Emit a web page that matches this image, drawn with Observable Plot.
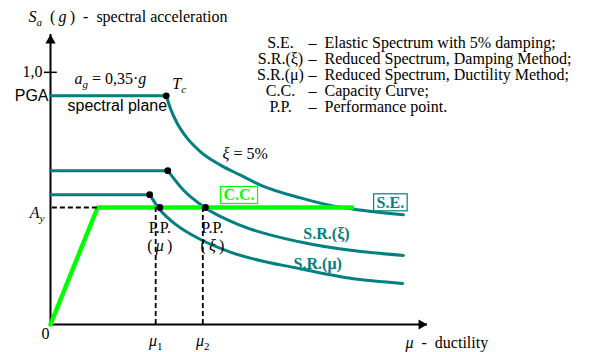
<!DOCTYPE html>
<html><head><meta charset="utf-8">
<script src="https://cdn.jsdelivr.net/npm/d3@7"></script>
<script src="https://cdn.jsdelivr.net/npm/@observablehq/plot@0.6"></script>
<style>html,body{margin:0;padding:0;background:#fff}</style>
</head><body><div id="chart"></div>
<script>
// ---------- data ----------
// Elastic spectrum (5% damping): descending branch after Tc (first point = Tc corner)
const seX = [3.07, 3.18, 3.36, 3.63, 3.98, 4.51, 5.04, 5.57, 6.63, 7.43, 8.01, 9.36];
const seY = [0.907, 0.857, 0.798, 0.738, 0.685, 0.632, 0.592, 0.553, 0.502, 0.472, 0.458, 0.435];
// Reduced spectrum, damping method
const srxX = [3.11, 3.53, 4.11, 5.04, 6.63, 7.96, 9.36];
const srxY = [0.610, 0.532, 0.462, 0.393, 0.327, 0.294, 0.274];
// Reduced spectrum, ductility method
const srmX = [2.63, 2.92, 3.32, 3.98, 4.77, 6.63, 7.96, 9.34];
const srmY = [0.515, 0.452, 0.397, 0.337, 0.287, 0.221, 0.183, 0.163];
// Capacity curve
const ccX = [0, 1.25, 8.0];
const ccY = [0, 0.464, 0.464];
const Ay = 0.464;
// Performance points and ductilities
const ppX = [2.90, 4.11];
const muX = [2.79, 4.04];
const muLabels = ["*μ*_[1]", "*μ*_[2]"];
const ppLabels = ["(\u2009*μ*\u2009)", "(\u2009*ξ*\u2009)"];
// y tick
const yTicks = [1.0];
const yTickLabels = ["1,0"];
// legend
const legendKeys = ["S.E.", "S.R.(ξ)", "S.R.(μ)", "C.C.", "P.P."];
const legendText = ["Elastic Spectrum with 5% damping;", "Reduced Spectrum, Damping Method;",
  "Reduced Spectrum, Ductility Method;", "Capacity Curve;", "Performance point."];

// ---------- styling ----------
const TEAL = "#008080", GREEN = "#00ff00";
const SERIF = "Liberation Serif, Times New Roman, serif";
const SANS = "Liberation Sans, Arial, sans-serif";
const yMax = 1.15, xMax = 10;

const pts = (X, Y) => X.map((x, i) => ({x, y: Y[i]}));
const se = pts(seX, seY), srx = pts(srxX, srxY), srm = pts(srmX, srmY), cc = pts(ccX, ccY);
const plateau = (s) => [{x: 0, y: s[0].y}, {x: s[0].x, y: s[0].y}];
const one = (o) => [o];
const NB = "\u00a0";

const chart = Plot.plot({
  width: 603, height: 352,
  marginLeft: 50, marginRight: 176, marginTop: 34, marginBottom: 28,
  x: {domain: [0, xMax], axis: null},
  y: {domain: [0, yMax], axis: null},
  style: {fontFamily: SERIF, fontSize: "16px", background: "white", color: "black"},
  marks: [
    // axes
    Plot.ruleX([0], {y1: 0, y2: yMax, stroke: "black", strokeWidth: 2}),
    Plot.ruleY([0], {x1: 0, x2: xMax, stroke: "black", strokeWidth: 2}),
    Plot.dot(one({x: 0, y: yMax}), {x: "x", y: "y", symbol: "triangle", r: 3.8, fill: "black", stroke: null, dy: 6}),
    Plot.dot(one({x: xMax, y: 0}), {x: "x", y: "y", symbol: "triangle", r: 3.8, fill: "black", stroke: null, rotate: 90, dx: -6}),
    Plot.ruleY(yTicks, {x1: -0.16, x2: 0.18, stroke: "black", strokeWidth: 1.5}),
    // spectra
    Plot.line(plateau(se), {x: "x", y: "y", stroke: TEAL, strokeWidth: 3}),
    Plot.line(se, {x: "x", y: "y", stroke: TEAL, strokeWidth: 3, curve: "monotone-x"}),
    Plot.line(plateau(srx), {x: "x", y: "y", stroke: TEAL, strokeWidth: 3}),
    Plot.line(srx, {x: "x", y: "y", stroke: TEAL, strokeWidth: 3, curve: "monotone-x"}),
    Plot.line(plateau(srm), {x: "x", y: "y", stroke: TEAL, strokeWidth: 3}),
    Plot.line(srm, {x: "x", y: "y", stroke: TEAL, strokeWidth: 3, curve: "monotone-x"}),
    // capacity curve
    Plot.line(cc, {x: "x", y: "y", stroke: GREEN, strokeWidth: 4.5, strokeLinejoin: "miter"}),
    // dashed guides
    Plot.ruleY([Ay], {x1: 0.05, x2: ccX[1], stroke: "black", strokeWidth: 1.8, strokeDasharray: "5,3"}),
    // performance point labels (drawn before the dashed verticals, as in the original)
    ...ppX.map((p, i) => Plot.text(one(p), {x: d => d, y: () => Ay, text: () => "P.P.", dx: i ? 7 : 0, dy: 26, textAnchor: "middle", lineAnchor: "bottom"})),
    ...ppX.map((p, i) => Plot.text(one(p), {x: d => d, y: () => Ay, text: () => ppLabels[i], dx: i ? 7 : 0, dy: 44, textAnchor: "middle", lineAnchor: "bottom"})),
    Plot.ruleX(muX, {y1: 0, y2: Ay, stroke: "black", strokeWidth: 1.8, strokeDasharray: "5,3"}),
    // points
    Plot.dot([se[0], srx[0], srm[0]], {x: "x", y: "y", r: 3.4, fill: "black", stroke: null}),
    Plot.dot(ppX, {x: d => d, y: () => Ay, r: 3.4, fill: "black", stroke: null}),
    // axis labels
    Plot.text(yTicks, {x: () => 0, y: d => d, text: (d, i) => yTickLabels[i], dx: -8, textAnchor: "end", lineAnchor: "middle"}),
    Plot.text(one("0"), {x: () => 0, y: () => 0, text: d => d, dx: -5, dy: 14, textAnchor: "middle", lineAnchor: "bottom"}),
    Plot.text(one("*A*_{y}"), {x: () => 0, y: () => Ay, text: d => d, dx: -6, dy: 11, textAnchor: "end", lineAnchor: "bottom"}),
    Plot.text(muX, {x: d => d, y: () => 0, text: (d, i) => muLabels[i], dy: 21, textAnchor: "middle", lineAnchor: "bottom"}),
    Plot.text(one(`*μ*${NB}${NB}-${NB}${NB}ductility`), {x: () => xMax, y: () => 0, text: d => d, dx: -22, dy: 23, textAnchor: "start", lineAnchor: "bottom"}),
    Plot.text(one(`*S*_{a}${NB}${NB}(\u2009*g*\u2009)${NB}${NB}-${NB}${NB}spectral acceleration`), {frameAnchor: "top-left", text: d => d, dx: -22, dy: -13, textAnchor: "start", lineAnchor: "bottom"}),
    // spectrum annotations
    Plot.text(one("PGA"), {x: () => 0, y: () => se[0].y, text: d => d, dx: -2, textAnchor: "end", lineAnchor: "middle", fontFamily: SANS}),
    Plot.text(one(`*a*_{g}${NB}=${NB}0,35·*g*`), {x: () => 0, y: () => se[0].y, text: d => d, dx: 24, dy: -12, textAnchor: "start", lineAnchor: "bottom"}),
    Plot.text(one("*T*_{c}"), {x: () => se[0].x, y: () => se[0].y, text: d => d, dx: 6, dy: -7, textAnchor: "start", lineAnchor: "bottom"}),
    Plot.text(one("spectral plane"), {x: () => 0, y: () => se[0].y, text: d => d, dx: 17, dy: 15, textAnchor: "start", lineAnchor: "bottom", fontFamily: SANS}),
    Plot.text(one(`*ξ*${NB}=${NB}5%`), {x: () => se[5].x, y: () => se[5].y, text: d => d, dx: 2, dy: -6, textAnchor: "start", lineAnchor: "bottom"}),
    // curve labels
    Plot.text(one("C.C."), {x: () => 5.0, y: () => Ay, text: d => d, dy: -7, textAnchor: "middle", lineAnchor: "bottom", fill: GREEN, fontWeight: "bold"}),
    Plot.text(one("S.E."), {x: () => se[se.length - 1].x, y: () => se[se.length - 1].y, text: d => d, dx: -13, dy: -7, textAnchor: "middle", lineAnchor: "bottom", fill: TEAL, fontWeight: "bold"}),
    Plot.text(one("S.R.(ξ)"), {x: () => srx[srx.length - 1].x, y: () => srx[srx.length - 1].y, text: d => d, dx: -100, dy: -16, textAnchor: "start", lineAnchor: "bottom", fill: TEAL, fontWeight: "bold"}),
    Plot.text(one("S.R.(μ)"), {x: () => srm[srm.length - 1].x, y: () => srm[srm.length - 1].y, text: d => d, dx: -109, dy: -14, textAnchor: "start", lineAnchor: "bottom", fill: TEAL, fontWeight: "bold"}),
    // legend
    Plot.text(one(legendKeys.join("\n")), {frameAnchor: "top-left", text: d => d, dx: 230, dy: 77, textAnchor: "middle", lineAnchor: "bottom", lineHeight: 1}),
    Plot.text(one(legendText.map(t => `–${NB}${NB}` + t).join("\n")), {frameAnchor: "top-left", text: d => d, dx: 258, dy: 77, textAnchor: "start", lineAnchor: "bottom", lineHeight: 1})
  ]
});

document.getElementById("chart").appendChild(chart);

// rich text: *italic*, _{italic subscript}, _[upright subscript]
const NS = "http://www.w3.org/2000/svg";
chart.querySelectorAll("text").forEach(t => {
  if (t.children.length) return;
  const s = t.textContent;
  if (!/[*_]/.test(s)) return;
  const parts = s.split(/(\*[^*]+\*|_\{[^}]+\}|_\[[^\]]+\])/).filter(p => p);
  t.textContent = "";
  let shifted = false;
  for (const p of parts) {
    const ts = document.createElementNS(NS, "tspan");
    let txt = p, italic = false, sub = false;
    if (p.startsWith("*")) { txt = p.slice(1, -1); italic = true; }
    else if (p.startsWith("_{")) { txt = p.slice(2, -1); italic = true; sub = true; }
    else if (p.startsWith("_[")) { txt = p.slice(2, -1); sub = true; }
    ts.textContent = txt;
    if (italic) ts.setAttribute("font-style", "italic");
    if (sub) { ts.setAttribute("font-size", "11px"); if (!shifted) { ts.setAttribute("dy", "4"); shifted = true; } }
    else if (shifted) { ts.setAttribute("dy", "-4"); shifted = false; }
    t.appendChild(ts);
  }
});

// boxes around the C.C. and S.E. curve labels
const boxed = {"C.C.": GREEN, "S.E.": TEAL};
chart.querySelectorAll("text").forEach(t => {
  if (t.children.length) return;
  const col = boxed[t.textContent];
  if (!col) return;
  const g = t.parentNode;
  if (getComputedStyle(t).fontWeight < 600 && getComputedStyle(t).fontWeight !== "bold") return;
  const b = t.getBBox();
  const r = document.createElementNS(NS, "rect");
  r.setAttribute("x", b.x - 3);
  r.setAttribute("y", b.y);
  r.setAttribute("width", b.width + 6);
  r.setAttribute("height", b.height);
  r.setAttribute("fill", "white");
  r.setAttribute("stroke", col);
  r.setAttribute("stroke-width", 1.2);
  if (t.getAttribute("transform")) r.setAttribute("transform", t.getAttribute("transform"));
  g.insertBefore(r, t);
});
</script>
</body></html>
